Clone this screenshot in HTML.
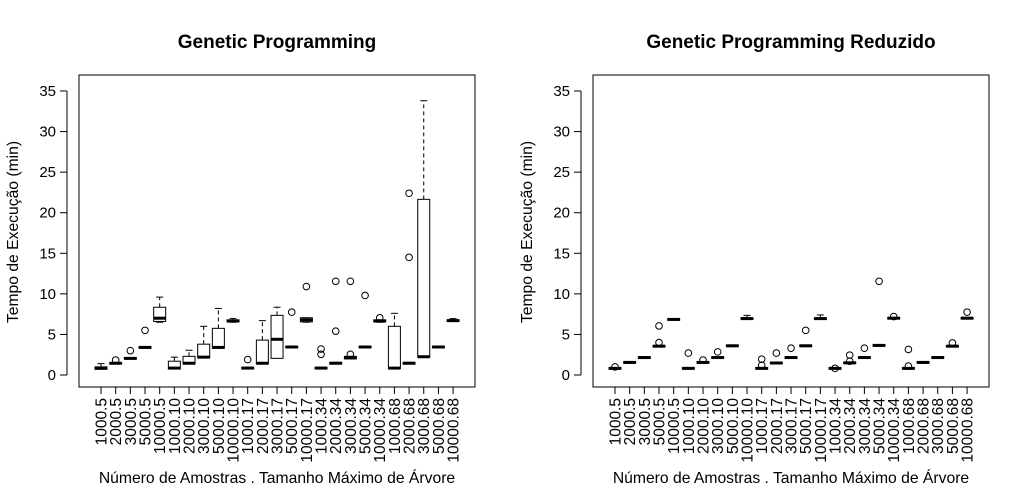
<!DOCTYPE html>
<html><head><meta charset="utf-8"><style>
body{margin:0;background:#fff;font-family:"Liberation Sans",Arial,sans-serif}
</style></head><body>
<svg id="c" width="1030" height="484" xmlns="http://www.w3.org/2000/svg" font-family="Liberation Sans, Arial, sans-serif"></svg>
<script>
const categories=["1000.5","2000.5","3000.5","5000.5","10000.5","1000.10","2000.10","3000.10","5000.10","10000.10","1000.17","2000.17","3000.17","5000.17","10000.17","1000.34","2000.34","3000.34","5000.34","10000.34","1000.68","2000.68","3000.68","5000.68","10000.68"];
const yTicks=[0,5,10,15,20,25,30,35];
// Genetic Programming
const gpMed=[0.85,1.45,2.05,3.4,7.0,0.85,1.45,2.2,3.4,6.65,0.85,1.45,4.4,3.45,6.8,0.85,1.45,2.1,3.45,6.65,0.85,1.45,2.25,3.45,6.7];
const gpQ1=[0.7,1.35,1.95,3.3,6.6,0.75,1.35,2.1,3.3,6.55,0.75,1.35,2.05,3.35,6.55,0.75,1.35,2.0,3.35,6.55,0.8,1.35,2.2,3.35,6.6];
const gpQ3=[1.0,1.5,2.15,3.5,8.35,1.7,2.3,3.8,5.75,6.8,0.95,4.3,7.35,3.55,7.05,0.95,1.55,2.3,3.55,6.8,6.0,1.55,21.65,3.55,6.8];
const gpLo=[0.7,1.35,1.95,3.3,6.5,0.75,1.35,2.1,3.3,6.5,0.75,1.35,2.05,3.35,6.5,0.75,1.35,2.0,3.35,6.5,0.8,1.35,2.2,3.35,6.6];
const gpHi=[1.4,1.5,2.15,3.5,9.6,2.2,3.05,6.0,8.2,6.95,0.95,6.7,8.35,3.55,7.05,0.95,1.55,2.3,3.55,6.8,7.6,1.55,33.8,3.55,6.95];
const gpOut=[[],[1.85],[3.0],[5.5],[],[],[],[],[],[],[1.9],[],[],[7.75],[10.9],[3.2,2.55],[11.55,5.4],[11.55,2.55],[9.8],[7.05],[],[22.4,14.5],[],[],[]];
// Genetic Programming Reduzido
const rMed=[0.82,1.55,2.15,3.55,6.85,0.82,1.55,2.15,3.6,6.95,0.82,1.48,2.15,3.6,6.95,0.82,1.5,2.15,3.65,7.0,0.82,1.55,2.15,3.55,7.0];
const rQ1=rMed.map(v=>v-0.1);
const rQ3=rMed.map(v=>v+0.1);
const rLo=rMed.map(v=>v-0.1);
const rHi=[0.92,1.65,2.25,3.65,6.95,0.92,1.65,2.25,3.7,7.35,0.92,1.58,2.25,3.7,7.4,0.92,1.6,2.25,3.75,7.1,0.92,1.65,2.25,3.65,7.1];
const rOut=[[1.0],[],[],[4.0,6.05],[],[2.7],[1.85],[2.85],[],[],[1.2,1.95],[2.7],[3.3],[5.5],[],[0.82],[1.7,2.45],[3.3],[11.55],[7.2],[1.1,3.15],[],[],[3.95],[7.75]];

const svg=document.getElementById('c');
const NS='http://www.w3.org/2000/svg';
function mk(t,a,p){const e=document.createElementNS(NS,t);for(const k in a)e.setAttribute(k,a[k]);(p||svg).appendChild(e);return e;}
const yScale=v=>375-v*8.114;

function panel(left,title,med,q1,q3,lo,hi,out,key){
  const g=mk('g',{});
  
  
  const step=14.67, x0=left+22;
  const xScale=i=>x0+i*step;
  const frame=mk('rect',{x:left,y:75,width:396,height:312,fill:'none',stroke:'#000','stroke-width':1},g);
  
  
  const t=mk('text',{x:left+198,y:48,'text-anchor':'middle','font-size':'19','font-weight':'bold'},g);
  t.textContent=title;
  
  
  const ya=mk('line',{x1:left-12,x2:left-12,y1:yScale(0),y2:yScale(35),stroke:'#000'},g);
  
  
  yTicks.forEach(v=>{
    mk('line',{x1:left-19,x2:left-12,y1:yScale(v),y2:yScale(v),stroke:'#000'},g);
    const l=mk('text',{x:left-23,y:yScale(v)+5,'text-anchor':'end','font-size':'15'},g);
    l.textContent=v;
    
    
  });
  const yt=mk('text',{transform:`translate(${left-61},${232}) rotate(-90)`,'text-anchor':'middle','font-size':'15.7'},g);
  yt.textContent='Tempo de Execução (min)';
  
  
  const xa=mk('line',{x1:xScale(0),x2:xScale(24),y1:387,y2:387,stroke:'#000'},g);
  
  
  categories.forEach((c,i)=>{
    mk('line',{x1:xScale(i),x2:xScale(i),y1:387,y2:394,stroke:'#000'},g);
    const l=mk('text',{transform:`translate(${xScale(i)+5.5},${398}) rotate(-90)`,'text-anchor':'end','font-size':'15.5'},g);
    l.textContent=c;
    
    
  });
  const xt=mk('text',{x:left+198,y:483,'text-anchor':'middle','font-size':'15.7'},g);
  xt.textContent='Número de Amostras . Tamanho Máximo de Árvore';
  
  
  categories.forEach((c,i)=>{
    const cx=xScale(i), hw=6, cw=3.5;
    const bg=mk('g',{},g);
    
    
    if(hi[i]>q3[i]){
      mk('line',{x1:cx,x2:cx,y1:yScale(q3[i]),y2:yScale(hi[i]),stroke:'#000','stroke-dasharray':'4,3'},bg);
    }
    mk('line',{x1:cx-cw,x2:cx+cw,y1:yScale(hi[i]),y2:yScale(hi[i]),stroke:'#000'},bg);
    if(lo[i]<q1[i]){
      mk('line',{x1:cx,x2:cx,y1:yScale(q1[i]),y2:yScale(lo[i]),stroke:'#000','stroke-dasharray':'4,3'},bg);
      mk('line',{x1:cx-cw,x2:cx+cw,y1:yScale(lo[i]),y2:yScale(lo[i]),stroke:'#000'},bg);
    }
    mk('rect',{x:cx-hw,y:yScale(q3[i]),width:hw*2,height:Math.max(0.5,yScale(q1[i])-yScale(q3[i])),fill:'#fff',stroke:'#000'},bg);
    mk('line',{x1:cx-hw,x2:cx+hw,y1:yScale(med[i]),y2:yScale(med[i]),stroke:'#000','stroke-width':3},bg);
    out[i].forEach(v=>{
      const o=mk('circle',{cx:cx,cy:yScale(v),r:3.3,fill:'none',stroke:'#000'},bg);
      
      
    });
  });
}
panel(79,'Genetic Programming',gpMed,gpQ1,gpQ3,gpLo,gpHi,gpOut,'gp');
panel(593,'Genetic Programming Reduzido',rMed,rQ1,rQ3,rLo,rHi,rOut,'gpr');
</script>
</body></html>
